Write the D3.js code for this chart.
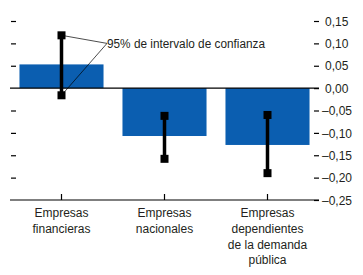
<!DOCTYPE html>
<html>
<head>
<meta charset="utf-8">
<script src="https://cdn.jsdelivr.net/npm/d3@7"></script>
<style>
  body { margin: 0; background: #fff; }
  text { font-family: "Liberation Sans Narrow", "Arial Narrow", "Liberation Sans", Arial, sans-serif; fill: #231f20; }
</style>
</head>
<body>
<svg id="chart" width="363" height="275"></svg>
<script>
// Categories (each label split into lines).
const categories = [
  ['Empresas', 'financieras'],
  ['Empresas', 'nacionales'],
  ['Empresas', 'dependientes', 'de la demanda', 'pública']
];
// Bar values and 95% confidence bounds.
const values = [0.053, -0.107, -0.127];
const lows = [-0.016, -0.158, -0.190];
const highs = [0.118, -0.062, -0.060];
const yTicks = [0.15, 0.10, 0.05, 0.00, -0.05, -0.10, -0.15, -0.20, -0.25];
const annotation = '95% de intervalo de confianza';

const svg = d3.select('#chart');

// Dimensions.
const plotLeft = 10, plotRight = 319, plotTop = 21, plotBottom = 200;

// Scales.
const keys = categories.map((c, i) => i);
const xScale = d3.scaleBand()
  .domain(keys)
  .range([plotLeft, plotRight])
  .paddingInner(0.184)
  .paddingOuter(0.092);
const yScale = d3.scaleLinear()
  .domain([-0.25, 0.15])
  .range([plotBottom, plotTop]);

const fmt = v => {
  const s = Math.abs(v).toFixed(2).replace('.', ',');
  return v < -1e-9 ? '\u2013' + s : s;
};

// Bars.
svg.append('g')
  .selectAll('rect')
  .data(values)
  .join('rect')
  .attr('x', (d, i) => xScale(i))
  .attr('width', xScale.bandwidth())
  .attr('y', d => yScale(Math.max(0, d)))
  .attr('height', d => Math.abs(yScale(d) - yScale(0)))
  .attr('fill', '#0b5eb0');

// Zero line.
svg.append('line')
  .attr('x1', plotLeft).attr('x2', plotRight)
  .attr('y1', yScale(0)).attr('y2', yScale(0))
  .attr('stroke', '#000').attr('stroke-width', 1.2);

// Left ticks (no labels).
svg.append('g')
  .attr('transform', `translate(${plotLeft + 6},0)`)
  .call(d3.axisLeft(yScale).tickValues(yTicks.filter(v => v !== 0 && v !== -0.25)).tickSize(5).tickFormat(''))
  .call(g => g.select('.domain').remove())
  .call(g => g.selectAll('line').attr('stroke', '#000').attr('stroke-width', 1.2));

// Right axis.
const rightAxis = svg.append('g')
  .attr('transform', `translate(${plotRight},0)`)
  .call(d3.axisRight(yScale).tickValues(yTicks).tickSize(0).tickFormat(fmt))
  .call(g => g.select('.domain').remove());
rightAxis.selectAll('.tick')
  .append('line')
  .attr('x1', -5).attr('x2', 0)
  .attr('stroke', '#000').attr('stroke-width', 1.2);
rightAxis.selectAll('text')
  .attr('x', d => d < -1e-9 ? 3 : 6)
  .attr('dy', '0.35em')
  .attr('font-size', 12)
  .attr('fill', '#231f20')
  .style('font-family', '"Liberation Sans Narrow", "Arial Narrow", "Liberation Sans", Arial, sans-serif');

// Bottom axis line and ticks.
svg.append('g')
  .attr('transform', `translate(0,${plotBottom})`)
  .call(d3.axisBottom(xScale).tickSize(-6).tickFormat(''))
  .call(g => g.select('.domain').attr('d', `M${plotLeft},0H${plotRight}`).attr('stroke', '#000').attr('stroke-width', 1.2))
  .call(g => g.selectAll('.tick line').attr('stroke', '#000').attr('stroke-width', 1.2));

// Category labels.
svg.append('g')
  .selectAll('text')
  .data(categories)
  .join('text')
  .attr('x', (d, i) => xScale(i) + xScale.bandwidth() / 2)
  .attr('y', 217)
  .attr('text-anchor', 'middle')
  .attr('font-size', 12)
  .selectAll('tspan')
  .data(d => d)
  .join('tspan')
  .attr('x', function () { return this.parentNode.getAttribute('x'); })
  .attr('dy', (d, j) => j === 0 ? 0 : 15.8)
  .text(d => d);

// Annotation leader lines.
const cx0 = xScale(0) + xScale.bandwidth() / 2;
const ax = 107, ay = yScale(0.10);
[highs[0], lows[0]].forEach(v => {
  svg.append('line')
    .attr('x1', cx0).attr('y1', yScale(v))
    .attr('x2', ax).attr('y2', ay)
    .attr('stroke', '#000').attr('stroke-width', 0.7);
});

// Error bars.
const errs = svg.append('g');
errs.selectAll('line')
  .data(values)
  .join('line')
  .attr('x1', (d, i) => xScale(i) + xScale.bandwidth() / 2)
  .attr('x2', (d, i) => xScale(i) + xScale.bandwidth() / 2)
  .attr('y1', (d, i) => yScale(highs[i]))
  .attr('y2', (d, i) => yScale(lows[i]))
  .attr('stroke', '#000').attr('stroke-width', 3.5);
errs.selectAll('rect')
  .data(values.flatMap((d, i) => [[i, highs[i]], [i, lows[i]]]))
  .join('rect')
  .attr('x', d => xScale(d[0]) + xScale.bandwidth() / 2 - 4)
  .attr('y', d => yScale(d[1]) - 4)
  .attr('width', 8).attr('height', 8)
  .attr('fill', '#000');

// Annotation text (condensed to fit like the original narrow face).
svg.append('text')
  .attr('x', ax)
  .attr('y', ay + 4.5)
  .attr('font-size', 12.5)
  .attr('textLength', 158)
  .attr('lengthAdjust', 'spacingAndGlyphs')
  .text(annotation);
</script>
</body>
</html>
